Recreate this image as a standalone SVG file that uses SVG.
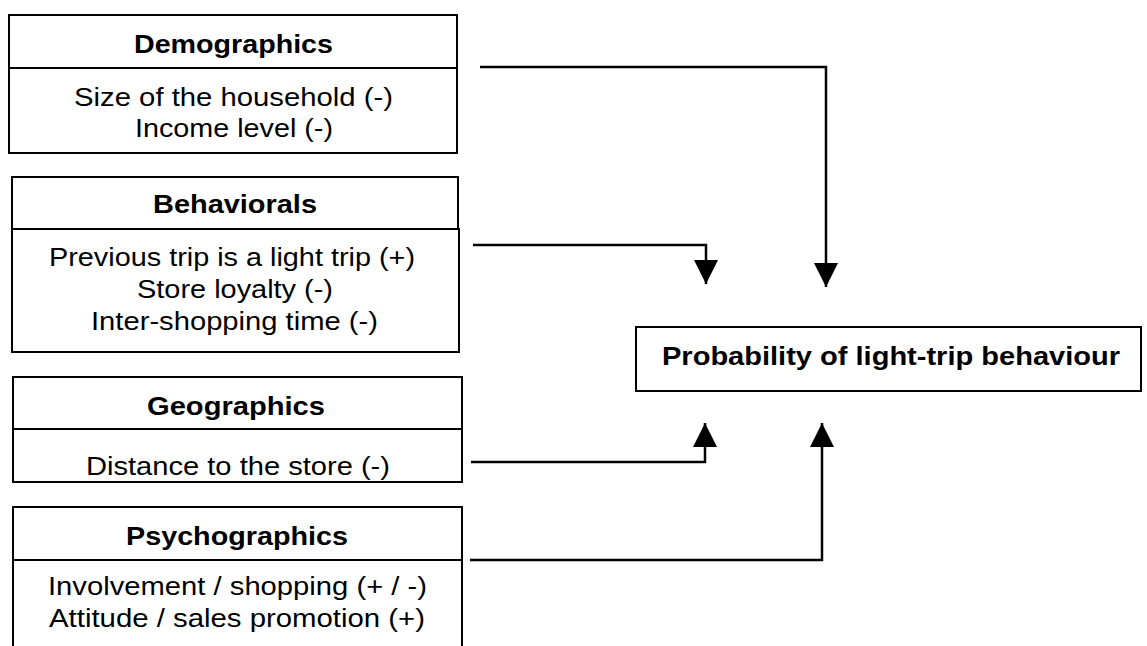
<svg xmlns="http://www.w3.org/2000/svg" width="1147" height="646" viewBox="0 0 1147 646">
<style>
.box{fill:#fff;stroke:#000;stroke-width:2}
.t{font-family:"Liberation Sans",Arial,sans-serif;font-size:26.5px;fill:#000;text-anchor:middle}
.b{font-family:"Liberation Sans",Arial,sans-serif;font-size:25.5px;font-weight:bold;fill:#000;text-anchor:middle}
.c{fill:none;stroke:#000;stroke-width:2.5}
</style>
<defs>
<marker id="ah" markerUnits="userSpaceOnUse" markerWidth="24" markerHeight="24" viewBox="0 0 22 22" refX="22" refY="11" orient="auto">
<path d="M0,0 L22,11 L0,22 Z" fill="#000"/>
</marker>
</defs>
<rect width="1147" height="646" fill="#fff"/>
<g id="demographics">
<rect class="box" x="9" y="15" width="448" height="53"/>
<rect class="box" x="9" y="68" width="448" height="85"/>
<text class="b" x="233.5" y="53" textLength="199" lengthAdjust="spacingAndGlyphs">Demographics</text>
<text class="t" x="233.5" y="106" textLength="319" lengthAdjust="spacingAndGlyphs">Size of the household (-)</text>
<text class="t" x="234" y="137" textLength="198" lengthAdjust="spacingAndGlyphs">Income level (-)</text>
</g>
<g id="behaviorals">
<rect class="box" x="12" y="177" width="446" height="52"/>
<rect class="box" x="12" y="229" width="447" height="123"/>
<text class="b" x="235" y="213" textLength="164" lengthAdjust="spacingAndGlyphs">Behaviorals</text>
<text class="t" x="232" y="266" textLength="366" lengthAdjust="spacingAndGlyphs">Previous trip is a light trip (+)</text>
<text class="t" x="235" y="298" textLength="196" lengthAdjust="spacingAndGlyphs">Store loyalty (-)</text>
<text class="t" x="234.5" y="330" textLength="287" lengthAdjust="spacingAndGlyphs">Inter-shopping time (-)</text>
</g>
<g id="geographics">
<rect class="box" x="13" y="377" width="449" height="52"/>
<rect class="box" x="13" y="429" width="449" height="53"/>
<text class="b" x="236" y="415" textLength="178" lengthAdjust="spacingAndGlyphs">Geographics</text>
<text class="t" x="238" y="475" textLength="304" lengthAdjust="spacingAndGlyphs">Distance to the store (-)</text>
</g>
<g id="psychographics">
<rect class="box" x="13" y="507" width="449" height="53"/>
<rect class="box" x="13" y="560" width="449" height="100"/>
<text class="b" x="237" y="545" textLength="222" lengthAdjust="spacingAndGlyphs">Psychographics</text>
<text class="t" x="237.5" y="595" textLength="379" lengthAdjust="spacingAndGlyphs">Involvement / shopping (+ / -)</text>
<text class="t" x="237" y="627" textLength="376" lengthAdjust="spacingAndGlyphs">Attitude / sales promotion (+)</text>
</g>
<g id="probability">
<rect class="box" x="636" y="327" width="505" height="64"/>
<text class="b" x="891" y="365" textLength="458" lengthAdjust="spacingAndGlyphs">Probability of light-trip behaviour</text>
</g>
<g id="connectors">
<polyline class="c" points="480,67 826,67 826,287" marker-end="url(#ah)"/>
<polyline class="c" points="473,245 706,245 706,284" marker-end="url(#ah)"/>
<polyline class="c" points="471,462 705,462 705,423" marker-end="url(#ah)"/>
<polyline class="c" points="470,560 822,560 822,423" marker-end="url(#ah)"/>
</g>
</svg>
